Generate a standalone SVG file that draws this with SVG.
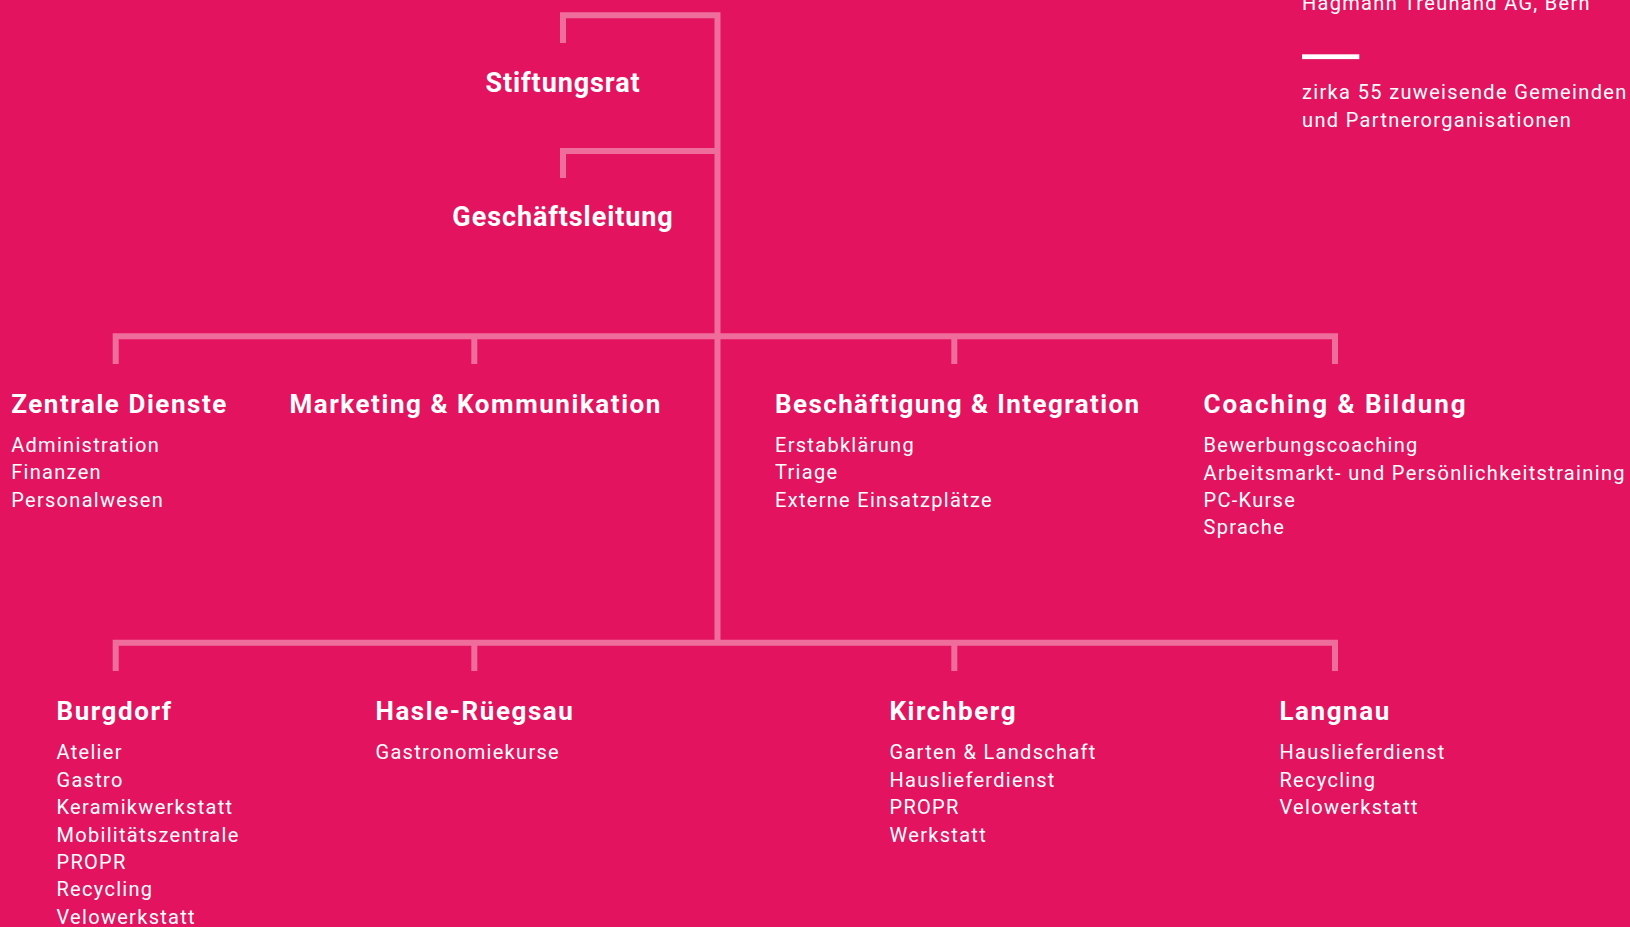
<svg xmlns="http://www.w3.org/2000/svg" width="1630" height="927" viewBox="0 0 1630 927">
<style>
.bg{fill:#E41360}
.ln{fill:none;stroke:#EF6D9B;stroke-width:6;stroke-linejoin:miter;stroke-linecap:butt}
text{fill:#FFFFFF;font-family:Roboto,"Liberation Sans",sans-serif}
.h{font-size:26px;font-weight:700;letter-spacing:1.55px}
.t{font-size:27px;font-weight:700;letter-spacing:0.9px;text-anchor:middle}
.i{font-size:20px;font-weight:400;letter-spacing:1.3px}
</style>
<rect class="bg" x="0" y="0" width="1630" height="927"/>
<g id="connectors">
<path class="ln" d="M563,43 V15.3 H717.5 V642.7"/>
<path class="ln" d="M563,178 V151 H717.5"/>
<path class="ln" d="M115.7,364 V336.3 H1335 V364"/>
<path class="ln" d="M474.3,336.3 V364"/>
<path class="ln" d="M954.3,336.3 V364"/>
<path class="ln" d="M115.7,671 V642.7 H1335 V671"/>
<path class="ln" d="M474.3,642.7 V671"/>
<path class="ln" d="M954.3,642.7 V671"/>
</g>
<g id="revision">
<text class="i" x="1302" y="10">Hagmann Treuhand AG, Bern</text>
<rect x="1302" y="54.3" width="57.3" height="4.8" fill="#FFFFFF"/>
<text class="i" x="1302" y="99.3" style="letter-spacing:1.35px">zirka 55 zuweisende Gemeinden</text>
<text class="i" x="1302" y="127.2" style="letter-spacing:1.35px">und Partnerorganisationen</text>
</g>
<g id="stiftungsrat"><text class="t" x="563" y="91.7">Stiftungsrat</text></g>
<g id="geschaeftsleitung"><text class="t" x="563" y="226">Geschäftsleitung</text></g>
<g id="zentrale-dienste">
<text class="h" x="11.2" y="413">Zentrale Dienste</text>
<text class="i" x="11.2" y="452.3">Administration</text>
<text class="i" x="11.2" y="479.3">Finanzen</text>
<text class="i" x="11.2" y="507">Personalwesen</text>
</g>
<g id="marketing">
<text class="h" x="289.5" y="413">Marketing &amp; Kommunikation</text>
</g>
<g id="beschaeftigung">
<text class="h" x="775" y="413" style="letter-spacing:1.4px">Beschäftigung &amp; Integration</text>
<text class="i" x="775" y="452.3">Erstabklärung</text>
<text class="i" x="775" y="479.3">Triage</text>
<text class="i" x="775" y="507">Externe Einsatzplätze</text>
</g>
<g id="coaching">
<text class="h" x="1203.5" y="413" style="letter-spacing:1.95px">Coaching &amp; Bildung</text>
<text class="i" x="1203.5" y="452.3">Bewerbungscoaching</text>
<text class="i" x="1203.5" y="479.6" style="letter-spacing:1.35px">Arbeitsmarkt- und Persönlichkeitstraining</text>
<text class="i" x="1203.5" y="507">PC-Kurse</text>
<text class="i" x="1203.5" y="534.3">Sprache</text>
</g>
<g id="burgdorf">
<text class="h" x="56.5" y="720">Burgdorf</text>
<text class="i" x="56.5" y="759.3">Atelier</text>
<text class="i" x="56.5" y="786.7">Gastro</text>
<text class="i" x="56.5" y="814.1">Keramikwerkstatt</text>
<text class="i" x="56.5" y="841.5">Mobilitätszentrale</text>
<text class="i" x="56.5" y="868.9">PROPR</text>
<text class="i" x="56.5" y="896.3">Recycling</text>
<text class="i" x="56.5" y="923.7">Velowerkstatt</text>
</g>
<g id="hasle-rueegsau">
<text class="h" x="375.5" y="720">Hasle-Rüegsau</text>
<text class="i" x="375.5" y="759.3">Gastronomiekurse</text>
</g>
<g id="kirchberg">
<text class="h" x="889.5" y="720">Kirchberg</text>
<text class="i" x="889.5" y="759.3">Garten &amp; Landschaft</text>
<text class="i" x="889.5" y="786.7">Hauslieferdienst</text>
<text class="i" x="889.5" y="814.1">PROPR</text>
<text class="i" x="889.5" y="841.5">Werkstatt</text>
</g>
<g id="langnau">
<text class="h" x="1279.5" y="720">Langnau</text>
<text class="i" x="1279.5" y="759.3">Hauslieferdienst</text>
<text class="i" x="1279.5" y="786.7">Recycling</text>
<text class="i" x="1279.5" y="814.1">Velowerkstatt</text>
</g>
</svg>
